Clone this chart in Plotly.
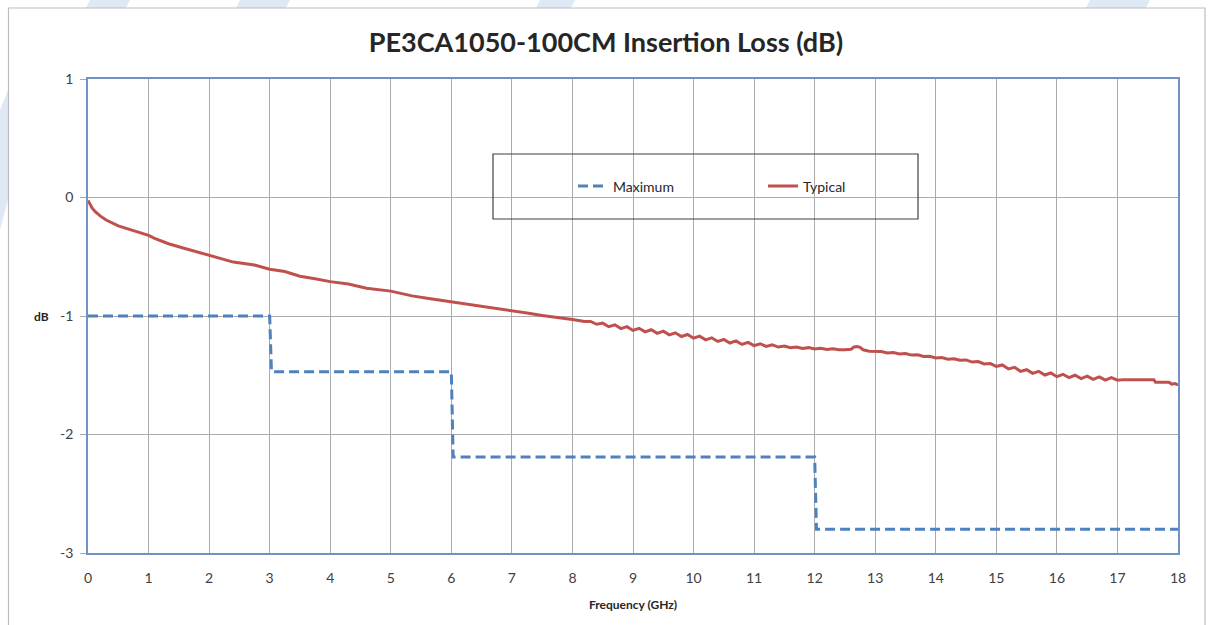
import plotly.graph_objects as go

# ---- data ----
max_freq = [0, 3, 3.03, 6, 6.03, 12, 12.03, 18]
max_loss = [-1.0, -1.0, -1.47, -1.47, -2.19, -2.19, -2.80, -2.80]

typ_freq = [0.0, 0.03, 0.07, 0.12, 0.2, 0.3, 0.5, 0.75, 1.0, 1.1, 1.33, 1.6, 2.0, 2.4, 2.75, 2.9,
            3.0, 3.25, 3.5, 3.75, 4.0, 4.3, 4.6, 5.0, 5.35, 5.6, 6.0, 6.5, 7.0, 7.25, 7.5, 7.75,
            8.0, 8.1, 8.2, 8.3, 8.4, 8.5, 8.6, 8.7, 8.8, 8.9, 9.0, 9.1, 9.2, 9.3, 9.4, 9.5,
            9.6, 9.7, 9.8, 9.9, 10.0, 10.1, 10.2, 10.3, 10.4, 10.5, 10.6, 10.7, 10.8, 10.9,
            11.0, 11.1, 11.2, 11.3, 11.4, 11.5, 11.6, 11.7, 11.8, 11.9, 12.0, 12.1, 12.2,
            12.3, 12.4, 12.5, 12.6, 12.65, 12.7, 12.75, 12.8, 12.9, 13.0, 13.1, 13.2, 13.3,
            13.4, 13.5, 13.6, 13.7, 13.8, 13.9, 14.0, 14.1, 14.2, 14.3, 14.4, 14.5, 14.6,
            14.7, 14.8, 14.9, 15.0, 15.1, 15.2, 15.3, 15.4, 15.5, 15.6, 15.7, 15.8, 15.9,
            16.0, 16.1, 16.2, 16.3, 16.4, 16.5, 16.6, 16.7, 16.8, 16.9, 17.0, 17.1, 17.6,
            17.63, 17.85, 17.9, 17.95, 18.0]
typ_loss = [-0.025, -0.055, -0.09, -0.12, -0.155, -0.19, -0.24, -0.28, -0.32, -0.345, -0.39, -0.43,
            -0.49, -0.545, -0.57, -0.59, -0.605, -0.625, -0.665, -0.685, -0.71, -0.73,
            -0.765, -0.79, -0.83, -0.85, -0.88, -0.915, -0.95, -0.975, -0.995, -1.01,
            -1.030, -1.038, -1.046, -1.046, -1.070, -1.060, -1.090, -1.074, -1.106, -1.090,
            -1.122, -1.104, -1.134, -1.116, -1.146, -1.128, -1.159, -1.142, -1.173, -1.156,
            -1.187, -1.170, -1.201, -1.184, -1.215, -1.198, -1.228, -1.210, -1.240, -1.222,
            -1.250, -1.234, -1.256, -1.244, -1.262, -1.254, -1.268, -1.261, -1.274, -1.267,
            -1.279, -1.273, -1.283, -1.277, -1.285, -1.285, -1.280, -1.262, -1.258, -1.265,
            -1.285, -1.297, -1.300, -1.300, -1.312, -1.308, -1.320, -1.316, -1.330, -1.328,
            -1.342, -1.340, -1.354, -1.351, -1.364, -1.361, -1.374, -1.371, -1.389, -1.385,
            -1.405, -1.401, -1.425, -1.413, -1.447, -1.433, -1.467, -1.453, -1.484, -1.467,
            -1.498, -1.481, -1.512, -1.492, -1.520, -1.500, -1.528, -1.508, -1.535, -1.514,
            -1.541, -1.520, -1.542, -1.537, -1.537, -1.560, -1.560, -1.575, -1.570, -1.582]

x_ticks = list(range(0, 19))
y_ticks = [-3, -2, -1, 0, 1]

FONT = "Lato, 'Open Sans', sans-serif"
BLUE_AX = "#7092C4"
GRID = "#ABABAB"

fig = go.Figure()
fig.add_trace(go.Scatter(x=max_freq, y=max_loss, mode="lines", name="Maximum",
                         line=dict(color="#4F81BD", width=3, dash="10px,5px")))
fig.add_trace(go.Scatter(x=typ_freq, y=typ_loss, mode="lines", name="Typical",
                         line=dict(color="#C0504D", width=3)))

L, R, T, B = 88, 34, 79, 72
W, H = 1212, 625
pw, ph = W - L - R, H - T - B

def px(xp):
    return (xp - L) / pw

def py(yp):
    return (H - B - yp) / ph

shapes = []
# faint watermark stripes
stripe = "rgba(214,228,242,0.8)"
for (a, b) in [(90, 130), (240, 290), (540, 575), (1090, 1150)]:
    shapes.append(dict(type="path", xref="paper", yref="paper", layer="below",
                       path=f"M {px(a)} {py(0)} L {px(b)} {py(0)} L {px(b-4)} {py(8)} L {px(a-4)} {py(8)} Z",
                       fillcolor=stripe, line=dict(width=0)))
shapes.append(dict(type="path", xref="paper", yref="paper", layer="below",
                   path=f"M {px(0)} {py(110)} L {px(8)} {py(90)} L {px(8)} {py(200)} L {px(0)} {py(230)} Z",
                   fillcolor=stripe, line=dict(width=0)))
# outer chart border
shapes.append(dict(type="rect", xref="paper", yref="paper", layer="below",
                   x0=px(8.5), x1=px(1205), y0=py(640), y1=py(8),
                   fillcolor="white", line=dict(color="#BDBDBD", width=1.2)))
# legend box
shapes.append(dict(type="rect", xref="paper", yref="paper", layer="above",
                   x0=px(493), x1=px(918), y0=py(219), y1=py(154),
                   fillcolor="rgba(255,255,255,0)", line=dict(color="#404040", width=1.2)))
shapes.append(dict(type="rect", xref="paper", yref="paper", layer="below",
                   x0=px(493), x1=px(918), y0=py(219), y1=py(154),
                   fillcolor="white", line=dict(width=0)))

fig.update_layout(
    width=W, height=H,
    margin=dict(l=L, r=R, t=T, b=B),
    paper_bgcolor="white",
    plot_bgcolor="rgba(0,0,0,0)",
    font=dict(family=FONT, color="#404040", size=14),
    title=dict(text="<b>PE3CA1050-100CM Insertion Loss (dB)</b>", x=0.5, xref="container",
               xanchor="center", y=1 - 43 / H, yanchor="middle",
               font=dict(family=FONT, size=27, color="#262626")),
    showlegend=True,
    legend=dict(orientation="h", x=px(573), y=py(186.5), xanchor="left", yanchor="middle",
                bgcolor="rgba(0,0,0,0)", borderwidth=0, entrywidth=145, entrywidthmode="pixels",
                font=dict(family=FONT, size=14, color="#262626")),
    shapes=shapes,
    xaxis=dict(range=[0, 18], tickvals=x_ticks, ticktext=[str(v) for v in x_ticks],
               showgrid=True, gridcolor=GRID, gridwidth=1, zeroline=False,
               showline=True, linecolor=BLUE_AX, linewidth=1.5, mirror=True,
               ticks="", ticklabelstandoff=11,
               title=dict(text="<b>Frequency (GHz)</b>", font=dict(family=FONT, size=12, color="#262626"),
                          standoff=16)),
    yaxis=dict(range=[-3, 1], tickvals=y_ticks, ticktext=[str(v) for v in y_ticks],
               showgrid=True, gridcolor=GRID, gridwidth=1, zeroline=False,
               showline=True, linecolor=BLUE_AX, linewidth=1.5, mirror=True,
               ticks="outside", ticklen=6, tickcolor=GRID, ticklabelstandoff=4),
    annotations=[dict(text="<b>dB</b>", xref="paper", yref="paper", x=px(41), y=py(316),
                      xanchor="center", yanchor="middle", showarrow=False,
                      font=dict(family=FONT, size=12, color="#262626"))],
)

fig.write_html("out.html", config={"displayModeBar": False},
               post_script="document.body.style.margin='0';document.body.style.overflow='hidden';")
